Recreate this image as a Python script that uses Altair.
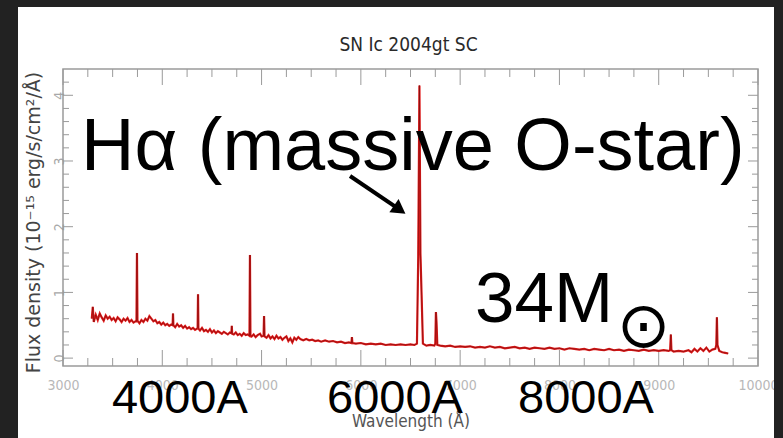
import altair as alt
import pandas as pd

# Spectrum of SN Ic 2004gt site (wavelength in Angstrom, flux in 1e-15 erg/s/cm2/A)
wavelength = [
    3290, 3300, 3310, 3330, 3350, 3370, 3390, 3410, 3430, 3450, 3470, 3490, 3510, 3530,
    3550, 3570, 3590, 3610, 3630, 3650, 3670, 3690, 3710, 3730, 3740, 3745, 3750, 3770,
    3790, 3810, 3830, 3850, 3870, 3890, 3910, 3930, 3950, 3970, 3990, 4010, 4030, 4050,
    4070, 4090, 4104, 4108, 4112, 4130, 4150, 4170, 4190, 4210, 4230, 4250, 4270, 4290,
    4310, 4330, 4350, 4356, 4360, 4364, 4380, 4400, 4420, 4440, 4460, 4480, 4500, 4520,
    4540, 4560, 4580, 4600, 4620, 4640, 4660, 4680, 4696, 4700, 4704, 4720, 4740, 4760,
    4780, 4800, 4820, 4840, 4860, 4878, 4883, 4888, 4900, 4920, 4940, 4960, 4985, 5000,
    5020, 5025, 5030, 5050, 5070, 5090, 5110, 5130, 5150, 5170, 5190, 5210, 5230, 5250,
    5270, 5290, 5310, 5330, 5350, 5370, 5390, 5420, 5450, 5480, 5510, 5540, 5570, 5600,
    5640, 5680, 5720, 5760, 5800, 5840, 5880, 5905, 5910, 5915, 5950, 6000, 6050, 6100,
    6150, 6200, 6250, 6300, 6350, 6400, 6450, 6500, 6540, 6565, 6578, 6590, 6600, 6612,
    6625, 6660, 6700, 6740, 6750, 6756, 6762, 6770, 6800, 6850, 6900, 6950, 7000, 7050,
    7100, 7150, 7200, 7250, 7300, 7350, 7400, 7450, 7500, 7550, 7600, 7650, 7700, 7750,
    7800, 7850, 7900, 7950, 8000, 8050, 8100, 8150, 8200, 8250, 8300, 8350, 8400, 8450,
    8500, 8550, 8600, 8650, 8700, 8750, 8800, 8850, 8900, 8950, 9000, 9050, 9100, 9115,
    9122, 9128, 9150, 9200, 9250, 9300, 9330, 9360, 9390, 9420, 9450, 9480, 9510, 9540,
    9570, 9580, 9586, 9592, 9610, 9640, 9670, 9700,
]
flux = [
    0.60, 0.78, 0.55, 0.66, 0.58, 0.68, 0.62, 0.57, 0.65, 0.60, 0.63, 0.58, 0.61, 0.56,
    0.62, 0.59, 0.55, 0.60, 0.57, 0.61, 0.55, 0.58, 0.54, 0.56, 0.56, 1.60, 0.57, 0.53,
    0.58, 0.55, 0.60, 0.57, 0.64, 0.60, 0.56, 0.58, 0.53, 0.55, 0.51, 0.54, 0.50, 0.52,
    0.49, 0.51, 0.50, 0.68, 0.50, 0.47, 0.52, 0.48, 0.50, 0.46, 0.49, 0.45, 0.47, 0.44,
    0.46, 0.43, 0.45, 0.46, 0.97, 0.45, 0.42, 0.46, 0.41, 0.43, 0.40, 0.44, 0.39, 0.42,
    0.38, 0.41, 0.39, 0.37, 0.40, 0.38, 0.36, 0.39, 0.38, 0.49, 0.37, 0.36, 0.39, 0.35,
    0.37, 0.34, 0.38, 0.35, 0.36, 0.34, 1.57, 0.35, 0.33, 0.36, 0.32, 0.35, 0.37, 0.33,
    0.34, 0.64, 0.33, 0.31, 0.35, 0.30, 0.33, 0.29, 0.34, 0.30, 0.32, 0.28, 0.31, 0.33,
    0.26, 0.30, 0.24, 0.31, 0.28, 0.32, 0.29, 0.27, 0.29, 0.27, 0.28, 0.26, 0.27, 0.25,
    0.27, 0.25, 0.26, 0.24, 0.25, 0.23, 0.24, 0.23, 0.32, 0.23, 0.22, 0.23, 0.21, 0.22,
    0.21, 0.22, 0.20, 0.21, 0.20, 0.21, 0.20, 0.21, 0.20, 0.22, 1.55, 4.15, 1.60, 0.95,
    0.22, 0.19, 0.20, 0.19, 0.22, 0.70, 0.55, 0.20, 0.19, 0.18, 0.19, 0.17, 0.18, 0.17,
    0.18, 0.16, 0.17, 0.16, 0.18, 0.16, 0.17, 0.15, 0.16, 0.17, 0.15, 0.16, 0.14, 0.16,
    0.15, 0.14, 0.16, 0.14, 0.15, 0.13, 0.15, 0.14, 0.13, 0.14, 0.12, 0.14, 0.13, 0.12,
    0.14, 0.12, 0.13, 0.11, 0.13, 0.12, 0.11, 0.13, 0.11, 0.12, 0.11, 0.12, 0.11, 0.12,
    0.36, 0.12, 0.10, 0.11, 0.10, 0.12, 0.09, 0.14, 0.10, 0.15, 0.11, 0.16, 0.10, 0.13,
    0.14, 0.20, 0.62, 0.20, 0.11, 0.09, 0.08, 0.07,
]

# Axis tick positions
x_tick_labels = [3000, 4000, 5000, 6000, 7000, 8000, 9000, 10000]
y_tick_labels = [0, 1, 2, 3, 4]
x_minor = [v for v in range(3000, 10001, 250) if v % 1000]
y_minor = [round(i * 0.2, 1) for i in range(1, 22) if i % 5]

# Overlay annotations (big slide text)
note_text = ["Hα (massive O-star)", "34M", "4000A", "6000A", "8000A"]
note_wl = [3181, 7149, 3493, 5659, 7583]
note_flux = [2.863, 0.55, -0.835, -0.835, -0.835]
note_size = [74, 71, 47, 47, 47]

sun_text = ["⊙"]
sun_wl = [8847]
sun_flux = [0.46]

arrow_wl = [5891]
arrow_flux = [2.772]
arrow_wl2 = [6380]
arrow_flux2 = [2.27]
head_wl = [6372]
head_flux = [2.28]

chart_title = "SN Ic 2004gt SC"

W, H = 695, 297
NARROW = "Liberation Sans Narrow, DejaVu Sans Condensed, sans-serif"
DARK = "#222222"

x_scale = alt.Scale(domain=[3000, 10000], nice=False, zero=False)
y_scale = alt.Scale(domain=[-0.12, 4.4], nice=False, zero=False)

x_axis = alt.Axis(
    values=x_tick_labels, format="d", ticks=False, tickSize=0, domain=False, grid=False,
    labelFlush=False, labelOverlap=False, labelFont=NARROW, labelFontSize=14,
    labelColor="#b8b8b8", labelPadding=12,
    title="Wavelength (Å)", titleFont=NARROW, titleFontSize=17, titleFontWeight="normal",
    titleColor="#555555", titleY=60, titleBaseline="alphabetic",
)
y_axis = alt.Axis(
    values=y_tick_labels, format="d", ticks=False, tickSize=0, domain=False, grid=False,
    labelFlush=False, labelOverlap=False, labelAngle=270, labelAlign="center",
    labelBaseline="bottom", labelFont=NARROW,
    labelFontSize=14, labelColor="#a8a8a8", labelPadding=-3,
    title="Flux density (10⁻¹⁵ erg/s/cm²/Å)", titleFont="DejaVu Sans",
    titleFontSize=19, titleFontWeight="normal", titleColor="#444444",
    titleAngle=270, titleX=-30, titleY=153, titleAlign="center", titleBaseline="middle",
)


def X(field="wl"):
    return alt.X(f"{field}:Q", scale=x_scale, axis=x_axis)


def Y(field="flux"):
    return alt.Y(f"{field}:Q", scale=y_scale, axis=y_axis)


spec = pd.DataFrame({"wl": wavelength, "flux": flux})
one_row = pd.DataFrame({"k": [0]})


# Dark slide border strips around the white page
def strip(x0, x1, y0, y1):
    return alt.Chart(one_row).mark_rect(color=DARK).encode(
        x=alt.value(x0), x2=alt.value(x1), y=alt.value(y0), y2=alt.value(y1)
    )


border = [
    strip(-63, -45, -69, H + 72),
    strip(-63, W + 25, -69, -62),
    strip(711, W + 25, -69, H + 72),
]

# Plot frame
frame = alt.Chart(one_row).mark_rect(
    filled=False, stroke="#9a9a9a", strokeWidth=1.5
).encode(x=alt.value(0), x2=alt.value(W), y=alt.value(0), y2=alt.value(H))

# Chart heading above the frame
heading = alt.Chart(pd.DataFrame({"t": [chart_title]})).mark_text(
    font=NARROW, fontSize=19, color="#2a2a2a", align="center", baseline="alphabetic"
).encode(text="t:N", x=alt.value(W / 2 - 2), y=alt.value(-18))

spectrum = alt.Chart(spec).mark_line(color="#e21b1b", strokeWidth=2.2).encode(x=X(), y=Y())
spectrum_core = alt.Chart(spec).mark_line(
    color="#7a0c0c", strokeWidth=0.8, opacity=0.8
).encode(x=X(), y=Y())


def x_ticks(values, length, top):
    df = pd.DataFrame({"wl": values})
    y0 = 0 if top else H
    y1 = length if top else H - length
    return alt.Chart(df).mark_rule(color="#9a9a9a", strokeWidth=1).encode(
        x=X(), y=alt.value(y0), y2=alt.value(y1),
    )


def y_ticks(values, length, right):
    df = pd.DataFrame({"flux": values})
    x0 = W if right else 0
    x1 = W - length if right else length
    return alt.Chart(df).mark_rule(color="#9a9a9a", strokeWidth=1).encode(
        y=Y(), x=alt.value(x0), x2=alt.value(x1),
    )


ticks = [
    x_ticks(x_tick_labels, 16, False), x_ticks(x_minor, 8, False),
    x_ticks(x_tick_labels, 16, True), x_ticks(x_minor, 8, True),
    y_ticks(y_tick_labels, 10, False), y_ticks(y_minor, 6, False),
    y_ticks(y_tick_labels, 10, True), y_ticks(y_minor, 6, True),
]

notes = alt.Chart(pd.DataFrame({
    "text": note_text, "wl": note_wl, "flux": note_flux, "size": note_size,
})).mark_text(font="Liberation Sans, Arial, sans-serif", align="left",
              baseline="alphabetic", color="black").encode(
    x=X(), y=Y(),
    text="text:N",
    size=alt.Size("size:Q", scale=None, legend=None),
)

sun = alt.Chart(pd.DataFrame({"text": sun_text, "wl": sun_wl, "flux": sun_flux})).mark_text(
    font="DejaVu Sans", fontSize=64, align="center", baseline="middle", color="black"
).encode(x=X(), y=Y(), text="text:N")

arrow_df = pd.DataFrame({"wl": arrow_wl, "flux": arrow_flux, "wl2": arrow_wl2, "flux2": arrow_flux2})
arrow_shaft = alt.Chart(arrow_df).mark_rule(color="black", strokeWidth=4).encode(
    x=X(), y=Y(), x2="wl2:Q", y2="flux2:Q",
)
arrow_head = alt.Chart(pd.DataFrame({"wl": head_wl, "flux": head_flux})).mark_point(
    shape="triangle", filled=True, color="black", size=260, angle=125, opacity=1
).encode(x=X(), y=Y())

chart = alt.layer(
    frame, heading, *ticks, spectrum, spectrum_core, notes, sun, arrow_shaft, arrow_head,
    *border,
).properties(
    width=W, height=H,
    padding={"left": 63, "top": 69, "right": 25, "bottom": 72},
    autosize="none",
    background="white",
).configure_view(stroke=None)

chart.save("out.html", embed_options={"renderer": "svg", "actions": False})
